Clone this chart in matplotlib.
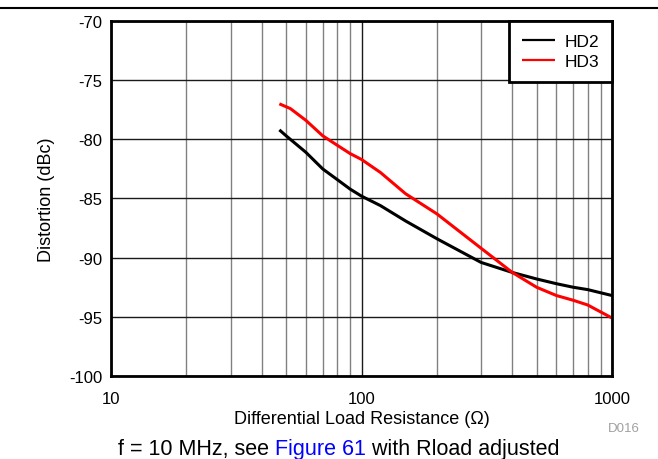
import matplotlib
matplotlib.use("Agg")
import matplotlib.pyplot as plt
from matplotlib.ticker import LogLocator, NullFormatter, FixedLocator
from matplotlib.lines import Line2D

plt.rcParams['font.family'] = ['Liberation Sans', 'DejaVu Sans']

hd2_r = [47, 50, 60, 70, 80, 90, 100, 119, 150, 200, 300, 400, 500, 600, 700, 800, 1000]
hd2_v = [-79.2, -79.7, -81.1, -82.5, -83.4, -84.2, -84.8, -85.6, -86.9, -88.4, -90.4, -91.25, -91.8, -92.2, -92.5, -92.7, -93.2]
hd3_r = [47, 52, 60, 70, 80, 90, 100, 119, 150, 200, 300, 400, 500, 600, 700, 800, 1000]
hd3_v = [-77.0, -77.4, -78.4, -79.7, -80.5, -81.2, -81.7, -82.8, -84.6, -86.3, -89.2, -91.25, -92.5, -93.2, -93.6, -94.0, -95.1]

x_ticks = [10, 100, 1000]
x_ticklabels = ["10", "100", "1000"]
y_ticks = [-100, -95, -90, -85, -80, -75, -70]
y_ticklabels = ["-100", "-95", "-90", "-85", "-80", "-75", "-70"]

fig = plt.figure(figsize=(6.58, 4.6), dpi=100)
ax = fig.add_axes([111/658, 1-377/460, (612-111)/658, (377-22)/460])

ax.plot(hd2_r, hd2_v, color='black', lw=2.2, label='HD2', solid_capstyle='butt')
ax.plot(hd3_r, hd3_v, color='#ff0000', lw=2.2, label='HD3', solid_capstyle='butt')

ax.set_xscale('log')
ax.set_xlim(10, 1000)
ax.set_ylim(-100, -70)
ax.xaxis.set_major_locator(FixedLocator(x_ticks))
ax.set_xticklabels(x_ticklabels)
ax.xaxis.set_minor_locator(LogLocator(base=10, subs=range(2, 10)))
ax.xaxis.set_minor_formatter(NullFormatter())
ax.set_yticks(y_ticks)
ax.set_yticklabels(y_ticklabels)
ax.tick_params(which='both', length=0, labelsize=12)
ax.tick_params(axis='x', pad=11)
ax.tick_params(axis='y', pad=6)
ax.grid(True, which='major', axis='both', color='#1a1a1a', lw=1.0)
ax.grid(True, which='minor', axis='x', color='#808080', lw=1.0)
ax.set_axisbelow(True)
for s in ax.spines.values():
    s.set_linewidth(2.0)
    s.set_color('black')

ax.set_xlabel('Differential Load Resistance (\u03a9)', fontsize=13)
ax.xaxis.set_label_coords(0.5, -0.095)
ax.set_ylabel('Distortion (dBc)', fontsize=13)
ax.yaxis.set_label_coords(-0.111, 0.5)

leg = ax.legend(loc='upper right', borderaxespad=0, fancybox=False, fontsize=12.5,
                handlelength=1.9, handletextpad=0.57, borderpad=0.72, labelspacing=0.3,
                framealpha=1)
leg.get_frame().set_edgecolor('black')
leg.get_frame().set_linewidth(2.0)
for ln in leg.get_lines():
    ln.set_linewidth(1.6)

fig.text(624/658, 1-429/460, 'D016', color='#a0a0a0', fontsize=9.5, ha='center', va='center')

fig.add_artist(Line2D([0, 1], [1-9/460, 1-9/460], color='black', lw=1.5, transform=fig.transFigure))

fig.canvas.draw()
r = fig.canvas.get_renderer()
parts = [("f = 10 MHz, see ", 'black'), ("Figure 61", '#0000ff'), (" with Rload adjusted", 'black')]
x = 118
for s, c in parts:
    t = fig.text(x/658, 1-455/460, s, color=c, fontsize=15.5, ha='left', va='baseline')
    w = t.get_window_extent(r).width
    x += w

fig.savefig('out.png', dpi=100)
